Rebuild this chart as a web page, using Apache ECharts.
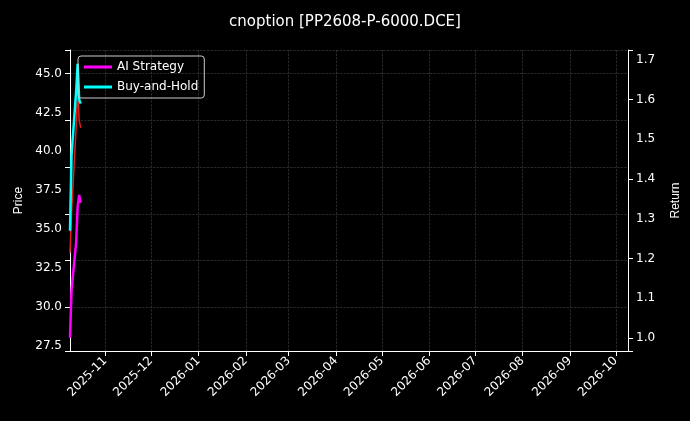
<!DOCTYPE html>
<html><head><meta charset="utf-8">
<script src="https://cdn.jsdelivr.net/npm/echarts@6/dist/echarts.min.js"></script>
<style>body{margin:0;background:#000}#c{width:690px;height:421px}</style>
</head><body><div id="c"></div>
<script>
var dates = ['2025-10-09', '2025-10-10', '2025-10-13', '2025-10-14', '2025-10-15', '2025-10-16'];
var price = [33.5, 36.0, 41.5, 44.0, 42.0, 41.5];
var aiReturn = [1.0, 1.12, 1.24, 1.33, 1.36, 1.34];
var bhReturn = [1.27, 1.46, 1.62, 1.69, 1.60, 1.59];

function ts(s) { return new Date(s + 'T00:00:00Z').getTime(); }
function pairs(vals) { return dates.map(function (d, i) { return [ts(d), vals[i]]; }); }

var chart = echarts.init(document.getElementById('c'));
var gridLine = {show: true, lineStyle: {color: '#444', type: 'dashed', width: 0.6}};
chart.setOption({
  backgroundColor: '#000',
  animation: false,
  title: {text: 'cnoption [PP2608-P-6000.DCE]', left: 'center', top: 10,
    textStyle: {color: '#fff', fontSize: 15, fontWeight: 'normal', fontFamily: 'DejaVu Sans'}},
  legend: {left: 78, top: 56, orient: 'vertical', itemWidth: 28, itemHeight: 3, itemGap: 8,
    borderColor: '#ccc', borderWidth: 1, borderRadius: 3, padding: [5, 6],
    textStyle: {color: '#fff', fontSize: 12, fontFamily: 'DejaVu Sans'},
    data: [{name: 'AI Strategy', icon: 'rect'}, {name: 'Buy-and-Hold', icon: 'rect'}]},
  grid: {left: 70, right: 62, top: 50, bottom: 70},
  xAxis: {type: 'time', min: ts('2025-10-09'), max: ts('2026-10-09'),
    minInterval: 28 * 86400000, maxInterval: 31 * 86400000,
    axisLine: {lineStyle: {color: '#fff'}}, axisTick: {show: true, lineStyle: {color: '#fff'}},
    splitLine: gridLine,
    axisLabel: {color: '#fff', rotate: 45, fontSize: 12, fontFamily: 'DejaVu Sans',
      formatter: function (v) { var d = new Date(v); return d.getUTCFullYear() + '-' + String(d.getUTCMonth() + 1).padStart(2, '0'); }}},
  yAxis: [
    {type: 'value', name: 'Price', nameLocation: 'middle', nameGap: 45, nameTextStyle: {color: '#fff', fontSize: 12},
      min: 27.2, max: 46.5, axisLine: {show: true, lineStyle: {color: '#fff'}}, axisTick: {show: true},
      splitLine: gridLine,
      axisLabel: {color: '#fff', fontSize: 12, fontFamily: 'DejaVu Sans', customValues: [27.5, 30, 32.5, 35, 37.5, 40, 42.5, 45],
        formatter: function (v) { return v.toFixed(1); }}},
    {type: 'value', name: 'Return', nameLocation: 'middle', nameGap: 42, nameTextStyle: {color: '#fff', fontSize: 12},
      min: 0.967, max: 1.725, axisLine: {show: true, lineStyle: {color: '#fff'}}, axisTick: {show: true},
      splitLine: {show: false},
      axisLabel: {color: '#fff', fontSize: 12, fontFamily: 'DejaVu Sans', customValues: [1.0, 1.1, 1.2, 1.3, 1.4, 1.5, 1.6, 1.7],
        formatter: function (v) { return v.toFixed(1); }}}
  ],
  series: [
    {name: 'Price', type: 'line', yAxisIndex: 0, data: pairs(price), showSymbol: false,
      lineStyle: {color: '#e0201a', width: 1.5}, itemStyle: {color: '#e0201a'}},
    {name: 'AI Strategy', type: 'line', yAxisIndex: 1, data: pairs(aiReturn), showSymbol: false,
      lineStyle: {color: '#ff00ff', width: 2.5}, itemStyle: {color: '#ff00ff'}},
    {name: 'Buy-and-Hold', type: 'line', yAxisIndex: 1, data: pairs(bhReturn), showSymbol: false,
      lineStyle: {color: '#00ffff', width: 2.5}, itemStyle: {color: '#00ffff'}}
  ]
});
</script></body></html>
